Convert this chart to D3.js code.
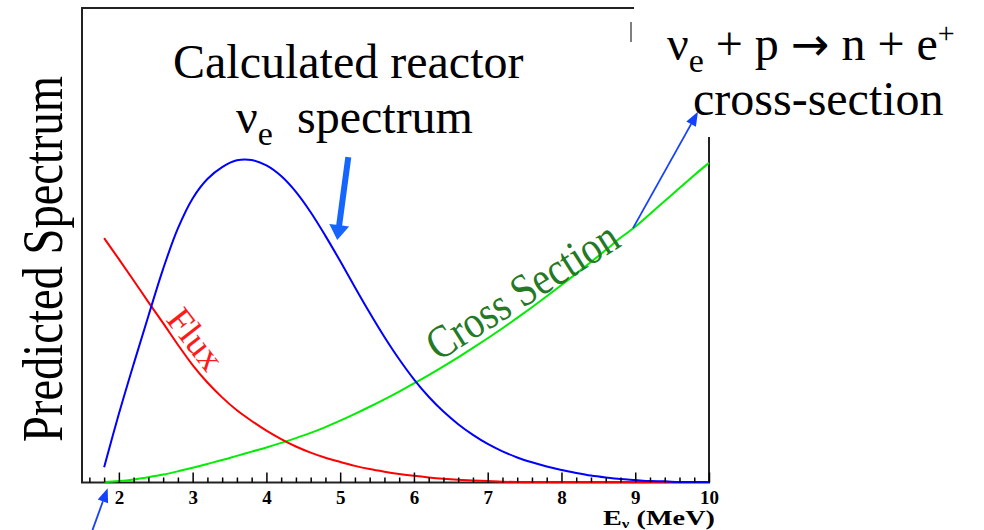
<!DOCTYPE html>
<html>
<head>
<meta charset="utf-8">
<script src="https://cdn.jsdelivr.net/npm/d3@7"></script>
<style>
  body { margin: 0; background: #fff; }
  svg text { font-family: "Liberation Serif", "Times New Roman", serif; }
</style>
</head>
<body>
<script>
// neutrino energy grid (MeV)
const energy = [1.8, 2.0, 2.2, 2.4, 2.6, 2.8, 3.0, 3.2, 3.4, 3.6, 3.8, 4.0, 4.2, 4.4, 4.6, 4.8,
    5.0, 5.2, 5.4, 5.6, 5.8, 6.0, 6.2, 6.4, 6.6, 6.8, 7.0, 7.2, 7.4, 7.6, 7.8, 8.0, 8.2, 8.4,
    8.6, 8.8, 9.0, 9.2, 9.4, 9.6, 9.8, 10.0]

// observed spectrum = flux x cross section (arb. units, peak = 1)
const spectrum = [0.046, 0.211, 0.365, 0.514, 0.660, 0.785, 0.878, 0.938, 0.975, 0.996, 0.997,
    0.980, 0.947, 0.898, 0.835, 0.762, 0.684, 0.603, 0.524, 0.449, 0.380, 0.318, 0.264, 0.218,
    0.179, 0.146, 0.118, 0.095, 0.076, 0.061, 0.048, 0.037, 0.028, 0.020, 0.014, 0.009, 0.006,
    0.003, 0.002, 0, 0, 0]

const flux = [0.755, 0.690, 0.624, 0.557, 0.492, 0.425, 0.362, 0.308, 0.262, 0.222, 0.189,
    0.159, 0.133, 0.110, 0.091, 0.075, 0.062, 0.050, 0.040, 0.032, 0.025, 0.019, 0.014, 0.010,
    0.007, 0.005, 0.003, 0.001, 0, 0, 0, 0, 0, 0, 0, 0, 0, 0, 0, 0, 0, null]

const crossSection = [0, 0.003, 0.008, 0.015, 0.023, 0.033, 0.044, 0.056, 0.068, 0.081, 0.094,
    0.107, 0.121, 0.136, 0.152, 0.170, 0.190, 0.211, 0.233, 0.256, 0.280, 0.305, 0.331, 0.358,
    0.386, 0.415, 0.445, 0.476, 0.508, 0.541, 0.575, 0.610, 0.645, 0.681, 0.718, 0.756, 0.790,
    0.830, 0.870, 0.910, 0.950, 0.988]

const majorTicks = [2, 3, 4, 5, 6, 7, 8, 9, 10]

const width = 984, height = 530

const x = d3.scaleLinear().domain([1.5, 10]).range([82, 709])
const y = d3.scaleLinear().domain([0, 1.4675]).range([482, 8])

const svg = d3.select("body").append("svg")
    .attr("width", width)
    .attr("height", height)

// plot frame
svg.append("rect")
    .attr("x", x(1.5))
    .attr("y", y(1.4675))
    .attr("width", x(10) - x(1.5))
    .attr("height", y(0) - y(1.4675) + 0.5)
    .attr("fill", "#fff")
    .attr("stroke", "#222")
    .attr("stroke-width", 2)

const line = d3.line()
    .defined(d => d.v != null)
    .x(d => x(d.e))
    .y(d => y(d.v))
    .curve(d3.curveCatmullRom.alpha(0.5))

const curves = [
    { values: crossSection, color: "#00ee00" },
    { values: flux, color: "#ff0000" },
    { values: spectrum, color: "#0000ff" }
]

svg.append("g")
    .selectAll("path")
    .data(curves)
    .join("path")
    .attr("fill", "none")
    .attr("stroke", d => d.color)
    .attr("stroke-width", 2)
    .attr("d", d => line(energy.map((e, i) => ({ e: e, v: d.values[i] }))))

// x axis, ticks pointing into the frame
const minorTicks = d3.range(16, 100, 2).map(d => d / 10).filter(d => d % 1 !== 0)

const gMinor = svg.append("g")
    .attr("transform", `translate(0,${y(0) + 0.5})`)
    .call(d3.axisBottom(x).tickValues(minorTicks).tickSize(-5).tickFormat(""))
gMinor.select(".domain").remove()

const gMajor = svg.append("g")
    .attr("transform", `translate(0,${y(0) + 0.5})`)
    .call(d3.axisBottom(x).tickValues(majorTicks).tickSize(-10).tickPadding(8).tickFormat(d3.format("d")))
gMajor.select(".domain").remove()

svg.selectAll(".tick line").attr("stroke", "#000").attr("stroke-width", 1.5)
gMajor.selectAll("text")
    .attr("font-weight", "bold")
    .attr("font-size", 19)
    .attr("fill", "#000")

const xLabel = svg.append("text")
    .attr("x", 603)
    .attr("y", 525)
    .attr("font-weight", "bold")
    .attr("font-size", 20)
    .attr("textLength", 112)
    .attr("lengthAdjust", "spacingAndGlyphs")
xLabel.append("tspan").text("E")
xLabel.append("tspan").attr("font-size", 12).attr("dy", 3).text("ν")
xLabel.append("tspan").attr("dy", -3).text(" (MeV)")

// text box over the top-right corner
svg.append("rect")
    .attr("x", 634).attr("y", 0)
    .attr("width", 350).attr("height", 137)
    .attr("fill", "#fff")
svg.append("line")
    .attr("x1", 631).attr("x2", 631)
    .attr("y1", 22).attr("y2", 42)
    .attr("stroke", "#555")
    .attr("stroke-width", 1.5)

// y label
svg.append("text")
    .attr("transform", "translate(62,259) rotate(-90)")
    .attr("text-anchor", "middle")
    .attr("font-size", 56)
    .attr("textLength", 366)
    .attr("lengthAdjust", "spacingAndGlyphs")
    .text("Predicted Spectrum")

// curve labels
svg.append("text")
    .attr("transform", `translate(${x(2.625)},${y(0.502)}) rotate(52)`)
    .attr("font-size", 36)
    .attr("fill", "#ff1a1a")
    .attr("textLength", 68)
    .attr("lengthAdjust", "spacingAndGlyphs")
    .text("Flux")

svg.append("text")
    .attr("transform", `translate(${x(6.33)},${y(0.372)}) rotate(-32.3)`)
    .attr("font-size", 46)
    .attr("fill", "#247a24")
    .attr("textLength", 218)
    .attr("lengthAdjust", "spacingAndGlyphs")
    .text("Cross Section")

// titles
svg.append("text")
    .attr("x", 173).attr("y", 78)
    .attr("font-size", 48)
    .text("Calculated reactor")

const nuTitle = svg.append("text")
    .attr("x", 236).attr("y", 133)
    .attr("font-size", 48)
nuTitle.append("tspan").text("ν")
nuTitle.append("tspan").attr("font-size", 34).attr("dy", 12).text("e")
nuTitle.append("tspan").attr("x", 297).attr("dy", -12).text("spectrum")

const reaction = svg.append("text")
    .attr("x", 667).attr("y", 60)
    .attr("font-size", 48)
reaction.append("tspan").text("ν")
reaction.append("tspan").attr("font-size", 34).attr("dy", 12).text("e")
reaction.append("tspan").attr("dy", -12).text(" + p ")
reaction.append("tspan").style("font-family", "'DejaVu Sans', sans-serif").attr("font-size", 46).text("→")
reaction.append("tspan").text(" n + e")
reaction.append("tspan").attr("font-size", 30).attr("dy", -17).text("+")

svg.append("text")
    .attr("x", 693).attr("y", 115)
    .attr("font-size", 48)
    .text("cross-section")

// arrows
function arrowHead(p0, p1, len, wid) {
    const dx = p1[0] - p0[0], dy = p1[1] - p0[1]
    const n = Math.hypot(dx, dy)
    const ux = dx / n, uy = dy / n
    const bx = p1[0] - ux * len, by = p1[1] - uy * len
    return { bx, by, px: -uy * wid / 2, py: ux * wid / 2 }
}

function thinArrow(from, to, color) {
    const p0 = [x(from[0]), y(from[1])], p1 = [x(to[0]), y(to[1])]
    const h = arrowHead(p0, p1, 14, 11)
    svg.append("line")
        .attr("x1", p0[0]).attr("y1", p0[1])
        .attr("x2", h.bx).attr("y2", h.by)
        .attr("stroke", color)
        .attr("stroke-width", 1.8)
    svg.append("path")
        .attr("d", `M${p1[0]},${p1[1]}L${h.bx + h.px},${h.by + h.py}L${h.bx - h.px},${h.by - h.py}Z`)
        .attr("fill", color)
}

function blockArrow(from, to, color) {
    const p0 = [x(from[0]), y(from[1])], p1 = [x(to[0]), y(to[1])]
    const h = arrowHead(p0, p1, 15, 20)
    const s = 3 / 10 // shaft half-width relative to head half-width
    const pts = [
        [p0[0] + h.px * s, p0[1] + h.py * s],
        [h.bx + h.px * s, h.by + h.py * s],
        [h.bx + h.px, h.by + h.py],
        p1,
        [h.bx - h.px, h.by - h.py],
        [h.bx - h.px * s, h.by - h.py * s],
        [p0[0] - h.px * s, p0[1] - h.py * s]
    ]
    svg.append("path")
        .attr("d", "M" + pts.join("L") + "Z")
        .attr("fill", color)
}

blockArrow([5.11, 1.006], [4.96, 0.749], "#1466ff")
thinArrow([8.97, 0.786], [9.85, 1.146], "#1440ff")
thinArrow([1.642, -0.149], [1.848, -0.019], "#1440ff")
</script>
</body>
</html>
